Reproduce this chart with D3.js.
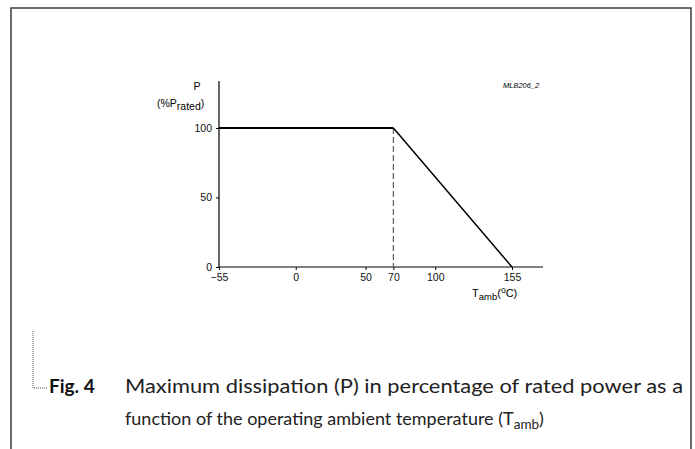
<!DOCTYPE html>
<html><head><meta charset="utf-8">
<script src="https://cdn.jsdelivr.net/npm/d3@7"></script>
<style>body{margin:0;background:#fff}svg{display:block}</style>
</head><body>
<script>
const curveT = [-55, 70, 155];
const curveP = [100, 100, 0];
const xTicks = [-55, 0, 50, 70, 100, 155];
const xTickLabels = ["\u221255", "0", "50", "70", "100", "155"];
const yTicks = [0, 50, 100];
const yTickLabels = ["0", "50", "100"];
const kneeT = 70;

const W = 695, H = 449;
const svg = d3.select("body").append("svg").attr("width", W).attr("height", H);
const font = "Liberation Sans, Arial, Helvetica, sans-serif";

svg.append("path").attr("d", `M11,${H} L11,8 L691,8 L691,${H}`)
  .attr("fill", "none").attr("stroke", "#3a3a3a").attr("stroke-width", 1.5);

const x = d3.scaleLinear().domain([-55, 155]).range([219, 512]);
const y = d3.scaleLinear().domain([0, 100]).range([267, 128]);

const g = svg.append("g");
g.append("line").attr("x1", x(-55)).attr("x2", 543).attr("y1", y(0)).attr("y2", y(0))
  .attr("stroke", "#000").attr("stroke-width", 1.2);
g.append("line").attr("x1", x(-55)).attr("x2", x(-55)).attr("y1", y(0)).attr("y2", 81)
  .attr("stroke", "#000").attr("stroke-width", 1.2);

const xa = g.append("g").attr("transform", `translate(0,${y(0)})`)
  .call(d3.axisBottom(x).tickValues(xTicks).tickSize(3).tickPadding(3.5)
    .tickFormat((d, i) => xTickLabels[i]));
xa.select(".domain").remove();
xa.selectAll("text").attr("font-family", font).attr("font-size", 10.5).attr("fill", "#111");
xa.selectAll("line").attr("stroke", "#000");

const ya = g.append("g").attr("transform", `translate(${x(-55)},0)`)
  .call(d3.axisLeft(y).tickValues(yTicks).tickSize(3).tickPadding(4)
    .tickFormat((d, i) => yTickLabels[i]));
ya.select(".domain").remove();
ya.selectAll("text").attr("font-family", font).attr("font-size", 10.5).attr("fill", "#111");
ya.selectAll("line").attr("stroke", "#000");

g.append("line").attr("x1", x(kneeT)).attr("x2", x(kneeT)).attr("y1", y(100)).attr("y2", y(0))
  .attr("stroke", "#666").attr("stroke-width", 1.3).attr("stroke-dasharray", "6,3");

const pts = curveT.map((t, i) => [t, curveP[i]]);
const ln = d3.line().x(d => x(d[0])).y(d => y(d[1]));
g.append("path").attr("d", ln(pts.slice(0, 2)))
  .attr("fill", "none").attr("stroke", "#000").attr("stroke-width", 2);
g.append("path").attr("d", ln(pts.slice(1)))
  .attr("fill", "none").attr("stroke", "#000").attr("stroke-width", 1.5);

g.append("text").attr("x", 197).attr("y", 90).attr("text-anchor", "middle")
  .attr("font-family", font).attr("font-size", 10.5).text("P");
const yl = g.append("text").attr("x", 157).attr("y", 107)
  .attr("font-family", font).attr("font-size", 10.5);
yl.append("tspan").text("(%P");
yl.append("tspan").attr("dy", 3).text("rated");
yl.append("tspan").attr("dy", -3).text(")");

const xl = g.append("text").attr("x", 472).attr("y", 297)
  .attr("font-family", font).attr("font-size", 11);
xl.append("tspan").text("T");
xl.append("tspan").attr("dy", 3).attr("font-size", 9.5).text("amb");
xl.append("tspan").attr("dy", -3).text("(");
xl.append("tspan").attr("dy", -4).attr("font-size", 8.5).text("o");
xl.append("tspan").attr("dy", 4).text("C)");

g.append("text").attr("x", 503).attr("y", 88).attr("font-family", font)
  .attr("font-size", 7.5).attr("font-style", "italic").text("MLB206_2");

svg.append("path").attr("d", "M33,331 L33,388 L48,388").attr("fill", "none")
  .attr("stroke", "#555").attr("stroke-width", 1).attr("stroke-dasharray", "1,1");

const cf = "Lato, 'Open Sans', sans-serif";
svg.append("text").attr("x", 49).attr("y", 393).attr("font-family", cf)
  .attr("font-size", 19).attr("font-weight", "bold").attr("fill", "#111").text("Fig. 4");
svg.append("text").attr("x", 125).attr("y", 393).attr("font-family", cf)
  .attr("font-size", 18.5).attr("fill", "#222").attr("textLength", 558).attr("lengthAdjust", "spacingAndGlyphs")
  .text("Maximum dissipation (P) in percentage of rated power as a");
const l2 = svg.append("text").attr("x", 125).attr("y", 425).attr("font-family", cf)
  .attr("font-size", 18).attr("fill", "#222");
l2.append("tspan").text("function of the operating ambient temperature (T");
l2.append("tspan").attr("dy", 4).attr("font-size", 13.5).text("amb");
l2.append("tspan").attr("dy", -4).text(")");
</script>
</body></html>
